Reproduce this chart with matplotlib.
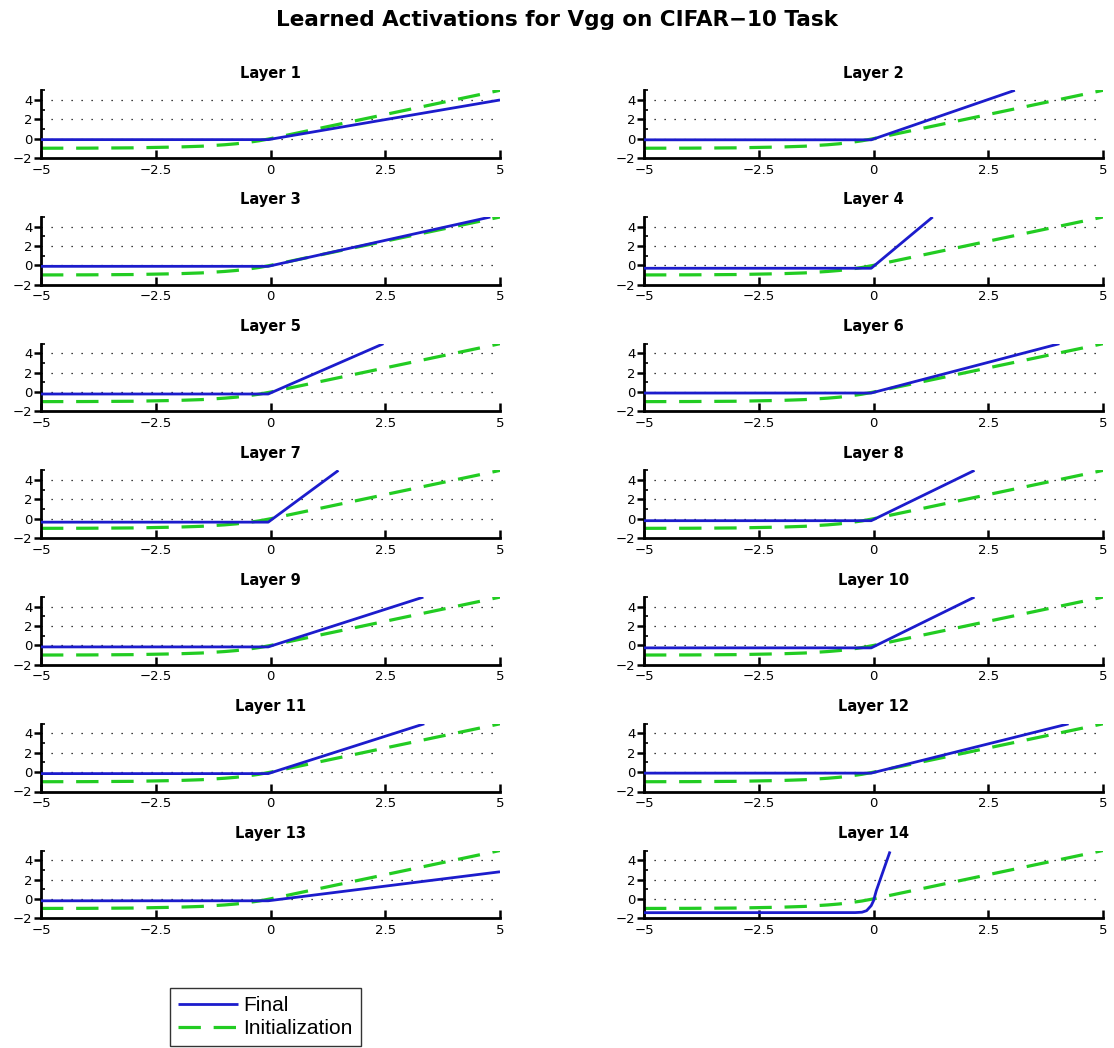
import matplotlib
matplotlib.use("Agg")
import matplotlib.pyplot as plt
from matplotlib.ticker import FixedLocator

# ---- data ----
layer_titles = [f"Layer {i}" for i in range(1, 15)]

# Initialization curve (ELU-like)
init_x = [-5, -4, -3, -2, -1.5, -1, -0.75, -0.5, -0.25, 0, 5]
init_y = [-0.99, -0.98, -0.95, -0.86, -0.78, -0.63, -0.53, -0.39, -0.22, 0, 5]

# Final learned activation per layer
final_x = [
    [-5, -0.05, 5.0],
    [-5, -0.05, 3.08],
    [-5, -0.05, 4.79],
    [-5, -0.05, 1.29],
    [-5, -0.05, 2.46],
    [-5, -0.05, 4.05],
    [-5, -0.05, 1.48],
    [-5, -0.05, 2.2],
    [-5, -0.05, 3.33],
    [-5, -0.05, 2.2],
    [-5, -0.05, 3.35],
    [-5, -0.05, 4.25],
    [-5, -0.05, 5.0],
    [-5, -0.4, -0.25, -0.15, -0.05, 0, 0.06, 0.36],
]
final_y = [
    [-0.1, -0.1, 4.0],
    [-0.12, -0.12, 5],
    [-0.1, -0.1, 5],
    [-0.3, -0.3, 5],
    [-0.2, -0.2, 5],
    [-0.1, -0.1, 5],
    [-0.35, -0.35, 5],
    [-0.2, -0.2, 5],
    [-0.15, -0.15, 5],
    [-0.25, -0.25, 5],
    [-0.15, -0.15, 5],
    [-0.1, -0.1, 5],
    [-0.2, -0.2, 2.8],
    [-1.43, -1.42, -1.38, -1.22, -0.7, -0.2, 0.83, 4.9],
]

xticks = [-5, -2.5, 0, 2.5, 5]
xticklabels = ["\u22125", "\u22122.5", "0", "2.5", "5"]
yticks = [-2, 0, 2, 4]
yticklabels = ["\u22122", "0", "2", "4"]

BLUE = "#1c1ccc"
GREEN = "#22cc22"

W, H = 1114, 1048
fig = plt.figure(figsize=(W / 100, H / 100), dpi=100)

font = ["DejaVu Sans"]
col_left = [41, 644]
ax_w = 459
bottoms = [158 + i * 126.7 for i in range(7)]
ax_h = 67.7

handles = None
for idx in range(14):
    r, c = divmod(idx, 2)
    left = col_left[c] / W
    bottom = 1 - bottoms[r] / H
    ax = fig.add_axes([left, bottom, ax_w / W, ax_h / H])
    ax.set_xlim(-5, 5)
    ax.set_ylim(-2, 5)
    l1, = ax.plot(final_x[idx], final_y[idx], color=BLUE, lw=2.0, zorder=3,
                  solid_capstyle="butt")
    l2, = ax.plot(init_x, init_y, color=GREEN, lw=2.3, ls=(0, (7, 4)), zorder=2)
    handles = (l1, l2)
    for s in ["top", "right"]:
        ax.spines[s].set_visible(False)
    for s in ["left", "bottom"]:
        ax.spines[s].set_linewidth(2.0)
    ax.xaxis.set_major_locator(FixedLocator(xticks))
    ax.set_xticklabels(xticklabels, fontsize=9.5, family=font)
    ax.yaxis.set_major_locator(FixedLocator(yticks))
    ax.set_yticklabels(yticklabels, fontsize=9.5, family=font)
    ax.yaxis.set_minor_locator(FixedLocator([-1, 1, 3, 5]))
    ax.tick_params(axis="x", direction="in", length=6, width=1.8, pad=4)
    ax.tick_params(axis="y", which="major", direction="out", length=5, width=1.8, pad=1)
    ax.tick_params(axis="y", which="minor", direction="in", length=3, width=1.2)
    ax.grid(axis="y", which="major", color="black", lw=0.9, ls=(0, (1, 7)))
    ax.get_ygridlines()[0].set_visible(False)
    ax.set_title(layer_titles[idx], fontsize=10.5, fontweight="bold",
                 family=font, pad=9)

fig.text(0.5, 1 - 20 / H, "Learned Activations for Vgg on CIFAR\u221210 Task",
         ha="center", va="center", fontsize=15.5, fontweight="bold", family=font)

leg = fig.legend(handles, ["Final", "Initialization"], loc="upper left",
                 bbox_to_anchor=(170 / W, 1 - 988 / H),
                 prop={"family": "Liberation Sans", "size": 15},
                 frameon=True, fancybox=False, edgecolor="black",
                 handlelength=2.9, handletextpad=0.25, borderpad=0.38,
                 labelspacing=0.2, borderaxespad=0)
leg.get_frame().set_linewidth(1.0)

fig.savefig("out.png", dpi=100)
